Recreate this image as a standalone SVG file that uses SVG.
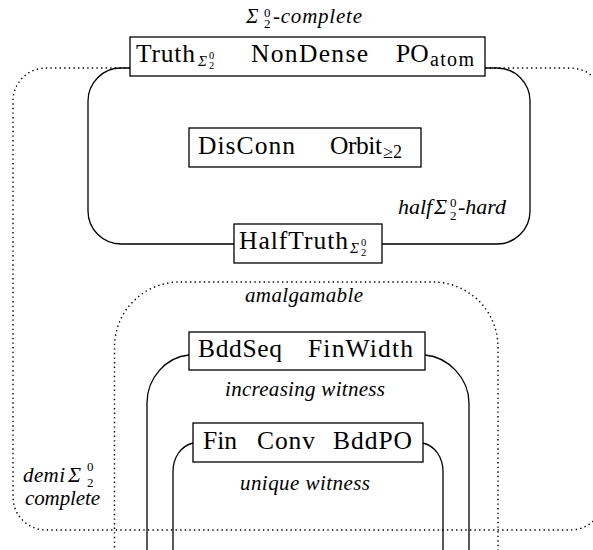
<svg xmlns="http://www.w3.org/2000/svg" width="593" height="550" viewBox="0 0 593 550">
<style>
.box{fill:#fff;stroke:#000;stroke-width:1.3}
.solid{fill:none;stroke:#000;stroke-width:1.3}
.dot{fill:none;stroke:#000;stroke-width:1.4;stroke-dasharray:1.4 3.2}
.t{font-family:"Liberation Serif",serif;font-size:25.5px;fill:#000}
.i{font-family:"Liberation Serif",serif;font-style:italic;font-size:21px;fill:#000}
.sg{font-style:italic;font-size:15px}
.sd{font-style:normal;font-size:10.5px}
.ld{font-style:normal;font-size:13px}
</style>
<rect width="593" height="550" fill="#fff"/>
<g id="connectors">
<path class="dot" d="M130,68 L46,68 A33,33 0 0 0 13,101 L13,497 A33,33 0 0 0 46,530 L570,530 A35,35 0 0 0 605,495 L605,103 A35,35 0 0 0 570,68 L485,68"/>
<path class="solid" d="M130,68 L121,68 A33,33 0 0 0 88,101 L88,211 A33,33 0 0 0 121,244 L234,244 M382,244 L497,244 A33,33 0 0 0 530,211 L530,101 A33,33 0 0 0 497,68 L485,68"/>
<path class="dot" d="M114.5,552 L114.5,347 A65,65 0 0 1 179.5,282 L433,282 A65,65 0 0 1 498,347 L498,552"/>
<path class="solid" d="M189,355 C166,357 147,378 147,403 L147,552 M425,355 C448,357 469,378 469,403 L469,552"/>
<path class="solid" d="M193,443 C181,446 173,457 173,472 L173,552 M423,443 C435,446 443,457 443,472 L443,552"/>
</g>
<g id="labels">
<text class="i"><tspan x="246" y="23">Σ</tspan><tspan class="ld" x="264" y="17">0</tspan><tspan class="ld" x="264" y="28">2</tspan><tspan x="273" y="23" textLength="89" lengthAdjust="spacing">-complete</tspan></text>
<text class="i"><tspan x="398" y="214" font-size="22">half</tspan><tspan x="434" y="214" font-size="22">Σ</tspan><tspan class="ld" x="450" y="207">0</tspan><tspan class="ld" x="450" y="220">2</tspan><tspan x="458" y="214" font-size="22">-hard</tspan></text>
<text class="i" x="245" y="302" textLength="118" lengthAdjust="spacing">amalgamable</text>
<text class="i" x="225" y="396" textLength="160" lengthAdjust="spacing">increasing witness</text>
<text class="i" x="240" y="490" textLength="130" lengthAdjust="spacing">unique witness</text>
<text class="i"><tspan x="23" y="482" textLength="42" lengthAdjust="spacing">demi</tspan><tspan x="68" y="482" font-size="22">Σ</tspan><tspan class="ld" x="87" y="471" font-size="14">0</tspan><tspan class="ld" x="87" y="487" font-size="14">2</tspan></text>
<text class="i" x="25" y="505" textLength="75" lengthAdjust="spacing">complete</text>
</g>
<g id="node-top">
<rect class="box" x="130" y="37" width="355" height="39"/>
<text class="t"><tspan x="136" y="62" textLength="59" lengthAdjust="spacing">Truth</tspan><tspan class="sg" x="198" y="66">Σ</tspan><tspan class="sd" x="209" y="59">0</tspan><tspan class="sd" x="209" y="69">2</tspan></text>
<text class="t" x="251" y="62" textLength="117" lengthAdjust="spacing">NonDense</text>
<text class="t"><tspan x="396" y="62">PO</tspan><tspan x="430" y="66" font-size="20" textLength="44" lengthAdjust="spacing">atom</tspan></text>
</g>
<g id="node-mid">
<rect class="box" x="189" y="128" width="232" height="39"/>
<text class="t" x="198" y="154" textLength="97" lengthAdjust="spacing">DisConn</text>
<text class="t"><tspan x="330" y="154" textLength="52" lengthAdjust="spacing">Orbit</tspan><tspan x="383" y="158" font-size="18">≥2</tspan></text>
</g>
<g id="node-half">
<rect class="box" x="234" y="224" width="148" height="39"/>
<text class="t"><tspan x="239" y="249" textLength="109" lengthAdjust="spacing">HalfTruth</tspan><tspan class="sg" x="350" y="253">Σ</tspan><tspan class="sd" x="361" y="246">0</tspan><tspan class="sd" x="361" y="256">2</tspan></text>
</g>
<g id="node-bdd">
<rect class="box" x="189" y="332" width="236" height="38"/>
<text class="t" x="198" y="357" textLength="84" lengthAdjust="spacing">BddSeq</text>
<text class="t" x="308" y="357" textLength="105" lengthAdjust="spacing">FinWidth</text>
</g>
<g id="node-fin">
<rect class="box" x="193" y="423" width="230" height="39"/>
<text class="t" x="203" y="449" textLength="34" lengthAdjust="spacing">Fin</text>
<text class="t" x="257" y="449" textLength="58" lengthAdjust="spacing">Conv</text>
<text class="t" x="333" y="449" textLength="79" lengthAdjust="spacing">BddPO</text>
</g>
</svg>
